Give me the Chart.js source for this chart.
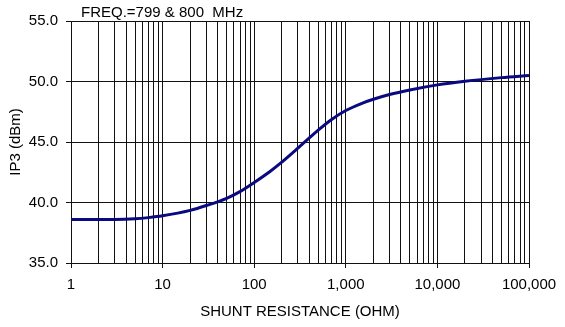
<!DOCTYPE html>
<html>
<head>
<meta charset="utf-8">
<script src="https://cdn.jsdelivr.net/npm/chart.js@4"></script>
<style>
  html, body { margin: 0; padding: 0; background: #fff; }
  #wrap { width: 565px; height: 327px; position: relative; }
</style>
</head>
<body>
<div id="wrap"><canvas id="ip3-chart"></canvas></div>
<script>
  // shunt resistance (ohm) and measured IP3 (dBm)
  const resistance = [1, 2, 3, 5, 7, 10, 20, 30, 50, 70, 100, 150, 200, 300, 400, 500, 700,
                      1000, 1500, 2000, 3000, 5000, 10000, 20000, 50000, 100000];
  const ip3 = [38.6, 38.6, 38.6, 38.65, 38.75, 38.9, 39.35, 39.75, 40.35, 40.9, 41.65, 42.58, 43.33, 44.49, 45.34, 45.98, 46.86,
               47.6, 48.2, 48.53, 48.92, 49.3, 49.72, 50.02, 50.32, 50.5];

  const decades = [1, 10, 100, 1000, 10000, 100000];
  const decadeLabels = ['1', '10', '100', '1,000', '10,000', '100,000'];
  const chartTitle = 'FREQ.=799 & 800  MHz';

  const font = { family: 'Liberation Sans, Arial, sans-serif', size: 15 };

  // grid lines at 1..9 of every decade
  const logGrid = [];
  decades.forEach((d, i) => {
    if (i === decades.length - 1) { logGrid.push(d); return; }
    for (let m = 1; m < 10; m++) logGrid.push(d * m);
  });

  const topLabel = {
    id: 'topLabel',
    afterDraw(chart) {
      const c = chart.ctx;
      c.save();
      c.font = font.size + 'px ' + font.family;
      c.fillStyle = '#000';
      c.textBaseline = 'middle';
      c.fillText(chartTitle, chart.chartArea.left + 10, 13);
      c.restore();
    }
  };

  const config = {
    type: 'line',
    data: {
      datasets: [{
        data: resistance.map((r, i) => ({ x: r, y: ip3[i] })),
        borderColor: '#0a0a80',
        borderWidth: 3,
        pointRadius: 0,
        cubicInterpolationMode: 'monotone',
        fill: false
      }]
    },
    options: {
      responsive: true,
      maintainAspectRatio: false,
      animation: false,
      layout: { padding: { top: 21, right: 36, bottom: 0, left: 0 } },
      plugins: { legend: { display: false }, tooltip: { enabled: false } },
      scales: {
        x: {
          type: 'logarithmic',
          min: 1,
          max: 100000,
          afterBuildTicks: s => { s.ticks = logGrid.map(v => ({ value: v })); },
          afterFit: s => { s.height = 64; },
          ticks: {
            autoSkip: false,
            maxRotation: 0,
            color: '#000',
            font: font,
            padding: 8,
            callback: v => {
              const i = decades.indexOf(v);
              return i >= 0 ? decadeLabels[i] : '';
            }
          },
          grid: {
            color: '#111',
            lineWidth: 1,
            tickLength: 5,
            tickColor: ctx => (ctx.tick && decades.includes(ctx.tick.value)) ? '#111' : 'rgba(0,0,0,0)'
          },
          border: { color: '#111' },
          title: {
            display: true,
            text: 'SHUNT RESISTANCE (OHM)',
            color: '#000',
            font: font,
            padding: { top: 0, bottom: 6 }
          }
        },
        y: {
          min: 35,
          max: 55,
          afterFit: s => { s.width = 71; },
          ticks: {
            stepSize: 5,
            color: '#000',
            font: font,
            padding: 8,
            callback: v => v.toFixed(1)
          },
          grid: { color: '#111', lineWidth: 1, tickLength: 5 },
          border: { color: '#111' },
          title: {
            display: true,
            text: 'IP3 (dBm)',
            color: '#000',
            font: font,
            padding: { top: 7, bottom: 0 }
          }
        }
      }
    },
    plugins: [topLabel]
  };

  const ip3Chart = new Chart(document.getElementById('ip3-chart'), config);
</script>
</body>
</html>
